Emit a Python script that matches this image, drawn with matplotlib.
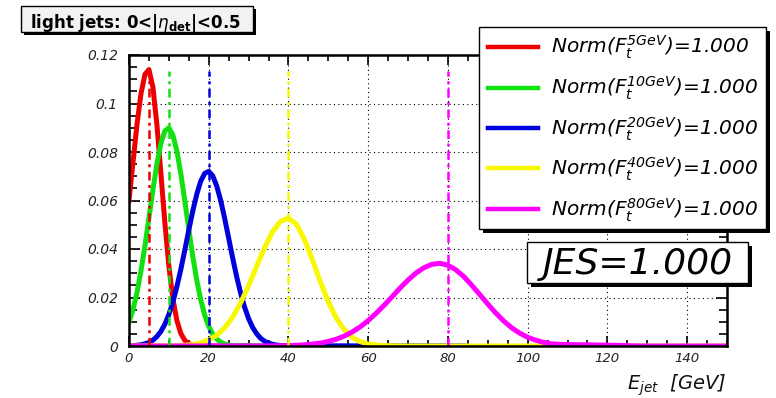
import matplotlib
matplotlib.use("Agg")
import matplotlib.pyplot as plt
from matplotlib.patches import Rectangle
from matplotlib.transforms import Bbox, TransformedBbox
from matplotlib.ticker import MultipleLocator

plt.rcParams['font.family'] = ['DejaVu Sans']
plt.rcParams['mathtext.fontset'] = 'custom'
plt.rcParams['mathtext.rm'] = 'DejaVu Sans:italic'
plt.rcParams['mathtext.it'] = 'DejaVu Sans:italic'
plt.rcParams['mathtext.bf'] = 'DejaVu Sans:bold'

# ---------------- data ----------------
red_E = [0, 1, 2, 3, 4, 5, 6, 7, 8, 9, 10, 11, 12, 13, 14, 15, 16, 17, 18, 30]
red_y = [0.0600, 0.0757, 0.0913, 0.1040, 0.1120, 0.1140, 0.1067, 0.0913, 0.0712, 0.0507,
         0.0330, 0.0195, 0.0106, 0.0052, 0.0023, 0.0010, 0.0004, 0.0001, 0.0, 0.0]

green_E = list(range(0, 28)) + [50]
green_y = [0.0098, 0.0150, 0.0220, 0.0309, 0.0413, 0.0528, 0.0644, 0.0751, 0.0835, 0.0887,
           0.0900, 0.0870, 0.0805, 0.0710, 0.0598, 0.0481, 0.0370, 0.0271, 0.0190, 0.0127,
           0.0081, 0.0049, 0.0029, 0.0016, 0.0008, 0.0004, 0.0002, 0.0001, 0.0]

blue_E = list(range(0, 41)) + [84]
blue_y = [0.0001, 0.0001, 0.0003, 0.0005, 0.0009, 0.0015, 0.0024, 0.0039, 0.0060, 0.0090,
          0.0130, 0.0181, 0.0244, 0.0316, 0.0396, 0.0478, 0.0557, 0.0626, 0.0680, 0.0712,
          0.0720, 0.0702, 0.0660, 0.0600, 0.0526, 0.0445, 0.0363, 0.0286, 0.0218, 0.0160,
          0.0113, 0.0077, 0.0051, 0.0032, 0.0020, 0.0012, 0.0007, 0.0004, 0.0002, 0.0001,
          0.0001, 0.0]

yellow_E = [0, 10, 12, 14, 16, 18, 20, 22, 24, 26, 28, 30, 32, 34, 36, 38, 40, 42, 44, 46,
            48, 50, 52, 54, 56, 58, 60, 62, 64, 66, 70, 150]
yellow_y = [0.0, 0.0001, 0.0001, 0.0003, 0.0006, 0.0013, 0.0025, 0.0044, 0.0075, 0.0119,
            0.0178, 0.0249, 0.0328, 0.0405, 0.0471, 0.0514, 0.0527, 0.0502, 0.0440, 0.0356,
            0.0265, 0.0182, 0.0115, 0.0067, 0.0036, 0.0018, 0.0008, 0.0004, 0.0002, 0.0001,
            0.0, 0.0]

magenta_E = [0, 36, 40, 44, 46, 48, 50, 52, 54, 56, 58, 60, 62, 64, 66, 68, 70, 72, 74, 76,
             78, 80, 82, 84, 86, 88, 90, 92, 94, 96, 98, 100, 102, 104, 106, 108, 110, 114,
             118, 122, 126, 130, 150]
magenta_y = [0.0, 0.00005, 0.00015, 0.0005, 0.0008, 0.0012, 0.0019, 0.0028, 0.0041, 0.0058,
             0.0079, 0.0105, 0.0135, 0.0168, 0.0203, 0.0239, 0.0272, 0.0301, 0.0323, 0.0337,
             0.0341, 0.0333, 0.0314, 0.0286, 0.0250, 0.0212, 0.0173, 0.0136, 0.0103, 0.0075,
             0.0053, 0.0036, 0.0024, 0.0015, 0.0009, 0.0007, 0.0006, 0.0005, 0.0004, 0.0003,
             0.0001, 0.0, 0.0]

curves_E = [red_E, green_E, blue_E, yellow_E, magenta_E]
curves_y = [red_y, green_y, blue_y, yellow_y, magenta_y]
reference_E = [5, 10, 20, 40, 80]          # vertical dashed markers
marker_top = 0.1135
thresholds = ['5GeV', '10GeV', '20GeV', '40GeV', '80GeV']
norm_values = [1.000, 1.000, 1.000, 1.000, 1.000]
jes_value = 1.000
colors = ['#ee0000', '#11e011', '#0000dd', '#f8f800', '#ff00ff']

xticks = [0, 20, 40, 60, 80, 100, 120, 140]
xtick_labels = ['0', '20', '40', '60', '80', '100', '120', '140']
yticks = [0, 0.02, 0.04, 0.06, 0.08, 0.10, 0.12]
ytick_labels = ['0', '0.02', '0.04', '0.06', '0.08', '0.1', '0.12']

# ---------------- figure ----------------
W, H = 776, 398
fig = plt.figure(figsize=(W / 100, H / 100), dpi=100)
fig.patch.set_facecolor('white')


def fx(x):
    return x / W


def fy(y):
    return 1 - y / H


ax = fig.add_axes([fx(129), fy(346), (727 - 129) / W, (346 - 55) / H])
ax.set_xlim(0, 150)
ax.set_ylim(0, 0.12)

for E, y, c in zip(curves_E, curves_y, colors):
    ax.plot(E, y, color=c, lw=3.6, solid_joinstyle='round', zorder=3)

for xv, c in zip(reference_E, colors):
    ax.vlines(xv, 0, marker_top, colors=c, lw=1.8,
              linestyles=[(0, (3.5, 1.8, 1.2, 1.8))], zorder=4)

ax.grid(True, which='major', color='black', linestyle=(0, (1, 3)), lw=0.8)
ax.set_axisbelow(True)

ax.set_xticks(xticks)
ax.set_xticklabels(xtick_labels)
ax.set_yticks(yticks)
ax.set_yticklabels(ytick_labels)
ax.xaxis.set_minor_locator(MultipleLocator(5))
ax.yaxis.set_minor_locator(MultipleLocator(0.005))
ax.tick_params(axis='both', which='both', direction='in', top=True, right=True,
               width=1.2, color='black')
ax.tick_params(axis='x', which='major', length=7, pad=4, labelsize=9.5, labelcolor='#222222')
ax.tick_params(axis='x', which='minor', length=4)
ax.tick_params(axis='y', which='major', length=8, pad=8, labelsize=10, labelcolor='#222222')
ax.tick_params(axis='y', which='minor', length=6)
for lab in ax.get_xticklabels() + ax.get_yticklabels():
    lab.set_fontstyle('italic')
for sp in ax.spines.values():
    sp.set_linewidth(1.8)
    sp.set_zorder(6)

# x axis title
fig.text(fx(727), fy(390), r'$E_{jet}$  [GeV]', ha='right', va='baseline',
         fontsize=14, fontstyle='italic', color='#111111')


def box(x0, y0, x1, y1, face, shadow, lw=1.0):
    fig.add_artist(Rectangle((fx(x0 + shadow), fy(y1 + shadow)), (x1 - x0) / W, (y1 - y0) / H,
                             transform=fig.transFigure, facecolor='black', edgecolor='none',
                             zorder=8))
    fig.add_artist(Rectangle((fx(x0), fy(y1)), (x1 - x0) / W, (y1 - y0) / H,
                             transform=fig.transFigure, facecolor=face, edgecolor='black',
                             lw=lw, zorder=9))


# title box
box(21, 6, 253, 32, '#f2f2f2', 3)
fig.text(fx(135), fy(28), r'light jets: 0<|$\eta_{\mathbf{det}}$|<0.5', ha='center',
         va='baseline', fontsize=12, fontweight='bold', zorder=10)

# legend box
lx0, ly0, lx1, ly1 = 479, 27, 766, 229
box(lx0, ly0, lx1, ly1, 'white', 4)
clip = TransformedBbox(Bbox([[fx(lx0), fy(ly1)], [fx(lx1), fy(ly0)]]), fig.transFigure)
row_y = [46.7, 87.7, 128.3, 168.3, 209.3]
for ry, c, th, nv in zip(row_y, colors, thresholds, norm_values):
    ln = plt.Line2D([fx(488), fx(538)], [fy(ry), fy(ry)], transform=fig.transFigure,
                    color=c, lw=3.2, zorder=10)
    fig.add_artist(ln)
    t = fig.text(fx(551), fy(ry + 7), r'$Norm(F_t^{%s})$=%.3f' % (th, nv), ha='left',
                 va='baseline', fontsize=14.5, fontstyle='italic', zorder=10)
    t.set_clip_box(clip)
    t.set_clip_on(True)

# JES box
box(527, 242, 748, 283, 'white', 4)
fig.text(fx(637.5), fy(274), 'JES=%.3f' % jes_value, ha='center', va='baseline',
         fontsize=26, fontstyle='italic', zorder=10)

fig.savefig('out.png', dpi=100)
